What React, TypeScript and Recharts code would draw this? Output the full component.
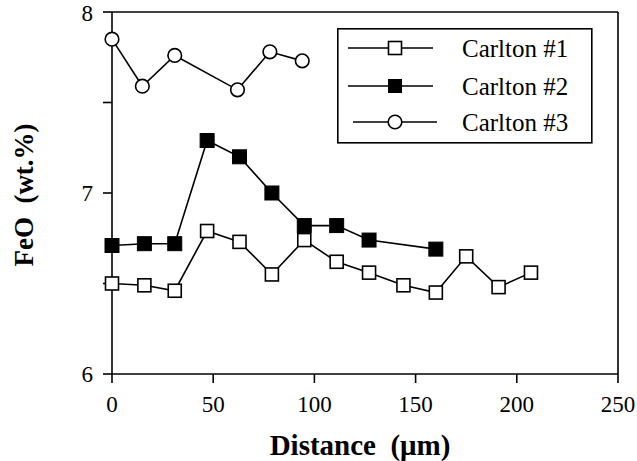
import React from 'react';
import { LineChart, Line, XAxis, YAxis, ReferenceLine } from 'recharts';

const distance1 = [0, 16, 31, 47, 63, 79, 95, 111, 127, 144, 160, 175, 191, 207];
const feo1 = [6.5, 6.49, 6.46, 6.79, 6.73, 6.55, 6.74, 6.62, 6.56, 6.49, 6.45, 6.65, 6.48, 6.56];
const distance2 = [0, 16, 31, 47, 63, 79, 95, 111, 127, 160];
const feo2 = [6.71, 6.72, 6.72, 7.29, 7.2, 7.0, 6.82, 6.82, 6.74, 6.69];
const distance3 = [0, 15, 31, 62, 78, 94];
const feo3 = [7.85, 7.59, 7.76, 7.57, 7.78, 7.73];
const seriesNames = ['Carlton #1', 'Carlton #2', 'Carlton #3'];
const xTicks = [0, 50, 100, 150, 200, 250];
const yTicks = [6, 6.5, 7, 7.5, 8];

const data1 = distance1.map((x, i) => ({ x, y: feo1[i] }));
const data2 = distance2.map((x, i) => ({ x, y: feo2[i] }));
const data3 = distance3.map((x, i) => ({ x, y: feo3[i] }));

const SERIF = '"Liberation Serif", "Times New Roman", serif';
const SW = 1.6;

const OpenSquare = (p: any) => (
  <rect key={`os-${p.index}`} x={p.cx - 6.5} y={p.cy - 6.5} width={13} height={13} fill="#fff" stroke="#000" strokeWidth={SW} />
);
const FilledSquare = (p: any) => (
  <rect key={`fs-${p.index}`} x={p.cx - 7} y={p.cy - 7} width={14} height={14} fill="#000" stroke="#000" strokeWidth={1} />
);
const OpenCircle = (p: any) => (
  <circle key={`oc-${p.index}`} cx={p.cx} cy={p.cy} r={6.8} fill="#fff" stroke="#000" strokeWidth={SW} />
);

const LegendBox = () => {
  const rows = [20, 58, 94];
  return (
    <svg width={256} height={116} style={{ display: 'block' }}>
      <rect x={0.8} y={0.8} width={254} height={114} fill="#fff" stroke="#000" strokeWidth={SW} />
      {seriesNames.map((name, i) => {
        const y = rows[i];
        const lx1 = i === 2 ? 16 : 11;
        const lx2 = i === 2 ? 100 : 96;
        const mx = 58;
        return (
          <g key={name}>
            <line x1={lx1} x2={lx2} y1={y} y2={y} stroke="#000" strokeWidth={SW} />
            {i === 0 && <rect x={mx - 6.5} y={y - 6.5} width={13} height={13} fill="#fff" stroke="#000" strokeWidth={SW} />}
            {i === 1 && <rect x={mx - 7} y={y - 7} width={14} height={14} fill="#000" />}
            {i === 2 && <circle cx={mx} cy={y} r={6.8} fill="#fff" stroke="#000" strokeWidth={SW} />}
            <text x={125} y={y + 8.5} fontFamily={SERIF} fontSize={25} fill="#000">{name}</text>
          </g>
        );
      })}
    </svg>
  );
};

const XTitle = (props: any) => {
  const vb = props.viewBox;
  return (
    <text x={vb.x + vb.width / 2 - 5} y={vb.y + 81} textAnchor="middle" fontFamily={SERIF} fontWeight="bold" fontSize={29} fill="#000">
      {'Distance\u00a0\u00a0(\u03bcm)'}
    </text>
  );
};

const YTitle = (props: any) => {
  const vb = props.viewBox;
  const cx = 33;
  const cy = vb.y + vb.height / 2 + 2;
  return (
    <text x={cx} y={cy} textAnchor="middle" transform={`rotate(-90, ${cx}, ${cy})`} fontFamily={SERIF} fontWeight="bold" fontSize={27} fill="#000">
      {'FeO\u00a0\u00a0(wt.%)'}
    </text>
  );
};

export default function App() {
  return (
    <div style={{ position: 'absolute', left: 0, top: 0, width: 637, height: 461, background: '#fff' }}>
      <LineChart width={637} height={461} margin={{ top: 12, right: 19, bottom: 0, left: 0 }}>
        <XAxis
          type="number"
          dataKey="x"
          domain={[0, 250]}
          ticks={xTicks}
          height={87}
          tickSize={9}
          tickMargin={13}
          axisLine={{ stroke: '#000', strokeWidth: SW }}
          tickLine={{ stroke: '#000', strokeWidth: SW }}
          tick={{ fill: '#000', fontFamily: SERIF, fontSize: 23 }}
          label={<XTitle />}
        />
        <YAxis
          type="number"
          domain={[6, 8]}
          ticks={yTicks}
          width={112}
          tickSize={9}
          tickMargin={10}
          tickFormatter={(v: number) => (v % 1 === 0 ? String(v) : '')}
          axisLine={{ stroke: '#000', strokeWidth: SW }}
          tickLine={{ stroke: '#000', strokeWidth: SW }}
          tick={{ fill: '#000', fontFamily: SERIF, fontSize: 23 }}
          label={<YTitle />}
        />
        <ReferenceLine y={8} stroke="#000" strokeWidth={SW} />
        <ReferenceLine x={250} stroke="#000" strokeWidth={SW} />
        <Line data={data3} dataKey="y" name={seriesNames[2]} stroke="#000" strokeWidth={SW} dot={OpenCircle} activeDot={false} isAnimationActive={false} />
        <Line data={data2} dataKey="y" name={seriesNames[1]} stroke="#000" strokeWidth={SW} dot={FilledSquare} activeDot={false} isAnimationActive={false} />
        <Line data={data1} dataKey="y" name={seriesNames[0]} stroke="#000" strokeWidth={SW} dot={OpenSquare} activeDot={false} isAnimationActive={false} />
      </LineChart>
      <div style={{ position: 'absolute', left: 337, top: 28, width: 256, height: 116 }}>
        <LegendBox />
      </div>
    </div>
  );
}
